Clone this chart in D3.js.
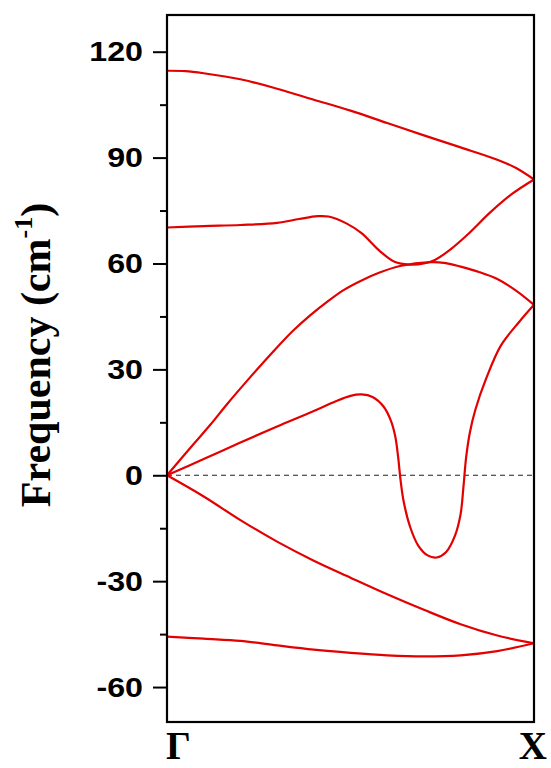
<!DOCTYPE html>
<html>
<head>
<meta charset="utf-8">
<script src="https://cdn.jsdelivr.net/npm/d3@7"></script>
<style>
  body { margin: 0; background: #fff; }
  svg { display: block; }
</style>
</head>
<body>
<svg id="chart" width="551" height="768"></svg>
<script>

// phonon branches, each point = [position along Γ-X (0..1), frequency cm^-1]
var branchTop = [[0,114.6],[0.05,114.5],[0.1,113.9],[0.2,112.2],[0.3,109.5],[0.4,106.4],[0.5,103.3],
  [0.6,99.8],[0.7,96.3],[0.8,92.9],[0.9,89.4],[0.95,87.1],[1,83.8]];

var branchOptic = [[0,70.2],[0.1,70.6],[0.2,70.9],[0.3,71.5],[0.36,72.6],[0.41,73.4],[0.44,73.3],
  [0.49,71.3],[0.53,68.6],[0.58,63.5],[0.62,60.5],[0.66,59.7],[0.7,60.0],[0.73,61.0],[0.77,63.8],
  [0.82,68.3],[0.88,74.4],[0.94,79.7],[1,83.8]];

var branchAcoustic1 = [[0,0],[0.072,8.8],[0.118,14.3],[0.164,20.2],[0.221,27.1],[0.289,35.0],[0.344,41.0],
  [0.39,45.3],[0.437,49.2],[0.48,52.4],[0.526,55.0],[0.581,57.5],[0.635,59.3],[0.717,60.4],
  [0.76,60.1],[0.8,59.1],[0.85,57.6],[0.9,55.6],[0.95,52.4],[1,48.3]];

var branchSoft = [[0,0],[0.1,4.6],[0.2,9.3],[0.3,13.8],[0.4,18.2],[0.46,21.0],[0.5,22.5],[0.53,22.9],
  [0.56,22.2],[0.59,19.5],[0.61,15.5],[0.622,11],[0.63,5],[0.636,-1],[0.645,-7.5],[0.663,-14.8],
  [0.685,-20],[0.71,-22.7],[0.735,-23.3],[0.76,-21.8],[0.785,-17],[0.8,-11],[0.808,-3],[0.815,5],
  [0.825,12],[0.84,18.5],[0.87,27.5],[0.91,36.8],[0.96,43.5],[1,48.3]];

var branchAcoustic2 = [[0,0],[0.1,-6],[0.2,-12.7],[0.3,-18.8],[0.4,-24.2],[0.5,-29],[0.6,-33.7],
  [0.7,-38.1],[0.8,-42.2],[0.9,-45.4],[1,-47.6]];

var branchBottom = [[0,-45.7],[0.1,-46.3],[0.2,-46.9],[0.3,-48.2],[0.4,-49.4],[0.5,-50.3],[0.6,-51.0],
  [0.7,-51.3],[0.8,-51.0],[0.9,-49.8],[1,-47.6]];

var branches = [branchTop, branchOptic, branchAcoustic1, branchSoft, branchAcoustic2, branchBottom];

var majorTicks = [-60, -30, 0, 30, 60, 90, 120];
var minorTicks = [-45, -15, 15, 45, 75, 105];
var kLabels = ["Γ", "X"];

// layout
var margin = {top: 15, right: 17, bottom: 46, left: 167},
    width = 551 - margin.left - margin.right,
    height = 768 - margin.top - margin.bottom;

var svg = d3.select("#chart");
var g = svg.append("g")
    .attr("transform", "translate(" + margin.left + "," + margin.top + ")");

// scales
var xScale = d3.scaleLinear().domain([0, 1]).range([0, width]);
var yScale = d3.scaleLinear().domain([-69.9, 130.4]).range([height, 0]);

// zero line
g.append("line")
    .attr("x1", 0).attr("x2", width)
    .attr("y1", yScale(0)).attr("y2", yScale(0))
    .attr("stroke", "#222")
    .attr("stroke-width", 1.2)
    .attr("stroke-dasharray", "5,4");

// curves
var line = d3.line()
    .x(function(d) { return xScale(d[0]); })
    .y(function(d) { return yScale(d[1]); })
    .curve(d3.curveCatmullRom.alpha(0.5));

g.selectAll(".branch")
    .data(branches)
    .enter()
    .append("path")
    .attr("class", "branch")
    .attr("d", line)
    .attr("fill", "none")
    .attr("stroke", "#e30000")
    .attr("stroke-width", 2.2)
    .attr("stroke-linejoin", "round");

// minor ticks
g.append("g")
    .call(d3.axisLeft(yScale).tickValues(minorTicks).tickSize(7).tickFormat(""))
    .call(function(a) { a.select(".domain").remove(); })
    .selectAll("line").attr("stroke-width", 2);

// major ticks
var yAxis = g.append("g")
    .call(d3.axisLeft(yScale).tickValues(majorTicks).tickSize(14).tickPadding(10)
      .tickFormat(function(d) { return String(d); }))
    .call(function(a) { a.select(".domain").remove(); });

yAxis.selectAll("line").attr("stroke-width", 2);
yAxis.selectAll("text")
    .attr("font-family", "Liberation Sans, Arial, sans-serif")
    .attr("font-weight", "bold")
    .attr("font-size", 28)
    .attr("fill", "#000")
    .attr("x", -24 / 1.15)
    .attr("transform", "scale(1.15,1)");

// frame
g.append("rect")
    .attr("x", 0).attr("y", 0)
    .attr("width", width).attr("height", height)
    .attr("fill", "none")
    .attr("stroke", "#000")
    .attr("stroke-width", 2.2);

// k-point labels
svg.selectAll(".klabel")
    .data(kLabels)
    .enter()
    .append("text")
    .attr("class", "klabel")
    .attr("x", function(d, i) { return i == 0 ? margin.left - 1 : 547; })
    .attr("y", 759)
    .attr("text-anchor", function(d, i) { return i == 0 ? "start" : "end"; })
    .attr("font-family", "Liberation Serif, Times New Roman, serif")
    .attr("font-weight", "bold")
    .attr("font-size", 39)
    .text(function(d) { return d; });

// y axis title
var title = svg.append("text")
    .attr("transform", "translate(50,355) rotate(-90)")
    .attr("text-anchor", "middle")
    .attr("font-family", "Liberation Serif, Times New Roman, serif")
    .attr("font-weight", "bold")
    .attr("font-size", 42);

title.append("tspan").text("Frequency (cm");
title.append("tspan").attr("font-size", 26).attr("dy", -18).text("-1");
title.append("tspan").attr("dy", 18).text(")");

</script>
</body>
</html>
